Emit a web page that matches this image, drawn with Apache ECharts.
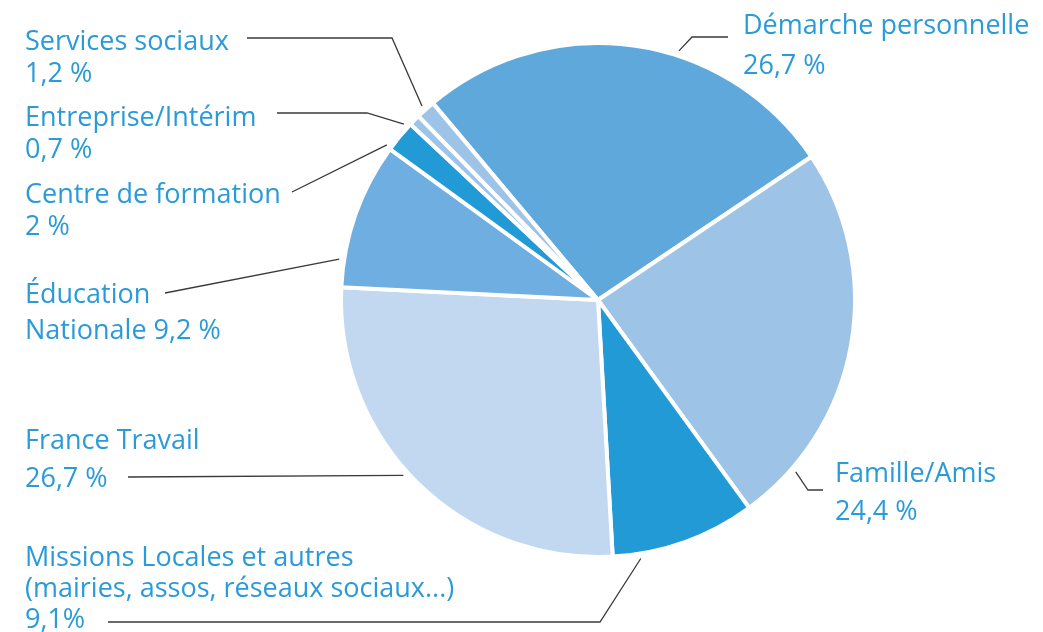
<!DOCTYPE html>
<html>
<head>
<meta charset="utf-8">
<script src="https://cdn.jsdelivr.net/npm/echarts@6/dist/echarts.min.js"></script>
<style>
  html, body { margin: 0; padding: 0; background: #fff; }
  #chart { width: 1043px; height: 632px; }
</style>
</head>
<body>
<div id="chart"></div>
<script>
// data
const categories = ['Démarche personnelle', 'Famille/Amis', 'Missions Locales et autres', 'France Travail',
  'Éducation Nationale', 'Centre de formation', 'Entreprise/Intérim', 'Services sociaux']
const values = [26.7, 24.4, 9.1, 26.7, 9.2, 2, 0.7, 1.2]
const labelTexts = [
  'Démarche personnelle\n26,7 %',
  'Famille/Amis\n24,4 %',
  'Missions Locales et autres\n(mairies, assos, réseaux sociaux...)\n9,1%',
  'France Travail\n26,7 %',
  'Éducation\nNationale 9,2 %',
  'Centre de formation\n2 %',
  'Entreprise/Intérim\n0,7 %',
  'Services sociaux\n1,2 %'
]
const colors = ['#5ea8dc', '#9dc3e6', '#229ad6', '#c1d8f0', '#6faee0', '#229ad6', '#9dc3e6', '#9dc3e6']

// layout
const center = [598, 300]
const radius = 257
const startAngle = 130
const labelPos = [[743, 6], [835, 455], [25, 543], [25, 422], [25, 277], [25, 179], [25, 102], [25, 26]]
const lineHeights = [40, 38, 31, 38, 36, 32, 32, 32]
// angle (deg) where each leader line touches the pie
const anchorAngles = [72, -41, -80.6, 222, 171, 143.7, 137.8, 132.2]
const lineBends = [
  [[692, 37], [728, 37]],
  [[808, 490], [823, 490]],
  [[600, 622], [108, 622]],
  [[128, 477]],
  [[165, 293]],
  [[292, 192]],
  [[367, 113], [277, 113]],
  [[392, 38], [247, 38]]
]

function edgePoint(i) {
  const a = anchorAngles[i] * Math.PI / 180
  const r = radius + 5
  return [center[0] + r * Math.cos(a), center[1] - r * Math.sin(a)]
}

const chart = echarts.init(document.getElementById('chart'))
chart.setOption({
  animation: false,
  series: [{
    type: 'pie',
    center: center,
    radius: radius,
    startAngle: startAngle,
    clockwise: true,
    itemStyle: { borderColor: '#fff', borderWidth: 4 },
    label: {
      show: true,
      color: '#2a9ad8',
      fontFamily: 'Open Sans',
      fontSize: 27,
      overflow: 'none',
      width: 520
    },
    labelLine: {
      show: true,
      lineStyle: { color: '#3a3a3a', width: 1.3 }
    },
    labelLayout: function (params) {
      const i = params.dataIndex
      return {
        x: labelPos[i][0],
        y: labelPos[i][1],
        align: 'left',
        verticalAlign: 'top',
        labelLinePoints: [edgePoint(i)].concat(lineBends[i])
      }
    },
    data: categories.map((name, i) => ({
      name: name,
      value: values[i],
      itemStyle: { color: colors[i] },
      label: { formatter: labelTexts[i], lineHeight: lineHeights[i] }
    }))
  }]
})
</script>
</body>
</html>
